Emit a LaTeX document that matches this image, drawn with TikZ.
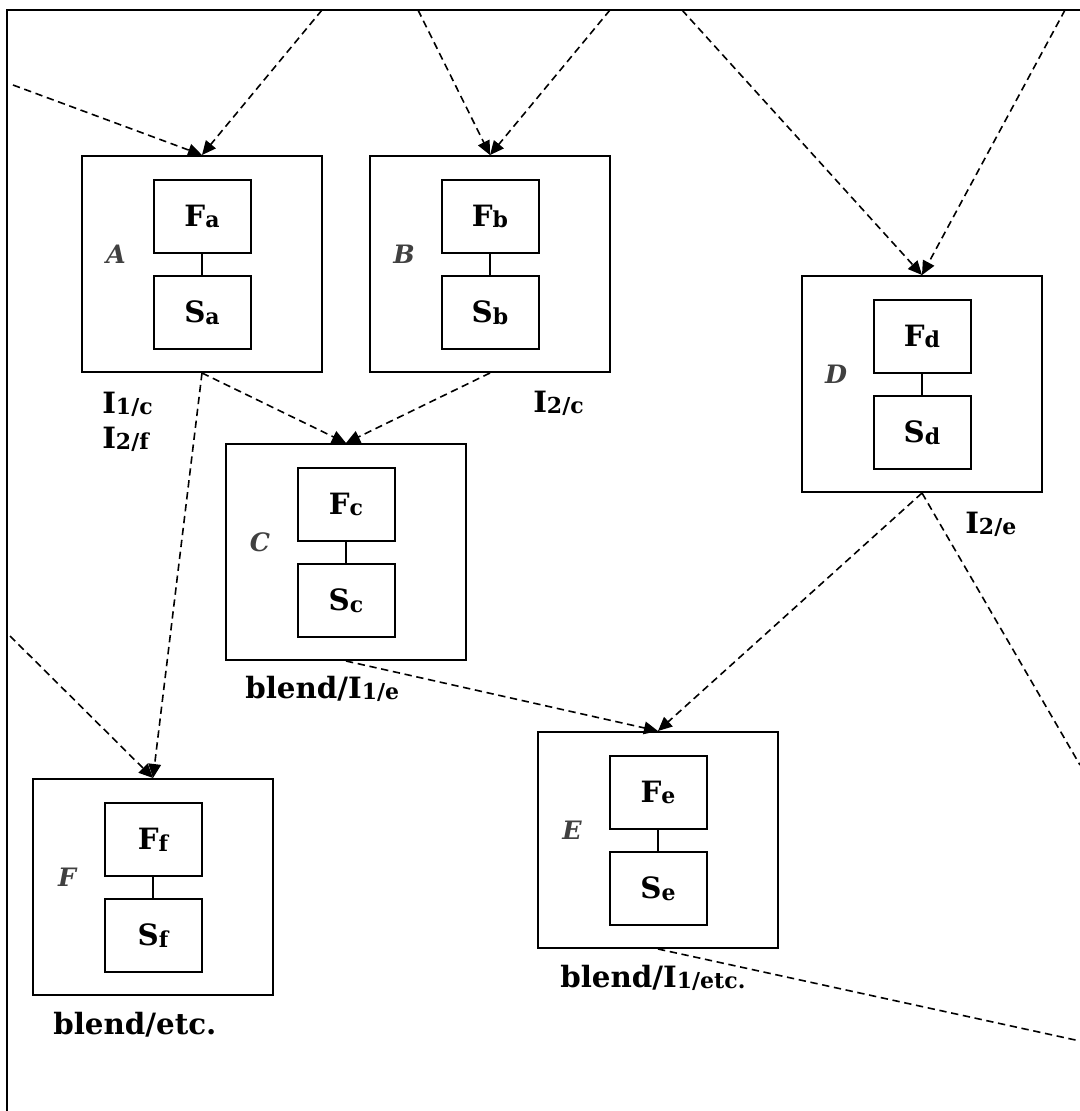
\documentclass[tikz,border=0pt]{standalone}
\usepackage{fontspec}
\setmainfont{DejaVu Serif}
\usetikzlibrary{arrows.meta}
\newcommand{\sbx}[1]{\raisebox{-1.2pt}{\fontsize{16.5}{17}\selectfont #1}}
\newcommand{\module}[5]{%
  \node[outer] (#1) at (#2,#3) {};
  \node[innerbox] (#1F) at (#2,#3-47.5) {F\sbx{#4}};
  \node[innerbox] (#1S) at (#2,#3+48.5) {S\sbx{#4}};
  \draw[link] (#1F) -- (#1S);
  \node[tag] (#1T) at (#2-86,#3-10) {#5};
}
\begin{document}
\begin{tikzpicture}[x=0.75pt,y=-0.75pt,
  outer/.style={draw, line width=1.5pt, minimum width=180pt, minimum height=162pt, inner sep=0pt},
  innerbox/.style={draw, line width=1.5pt, minimum width=72.75pt, minimum height=54.75pt, inner sep=0pt, font=\fontsize{22}{24}\selectfont\bfseries},
  tag/.style={font=\fontsize{19}{20}\selectfont\bfseries\itshape, text=black!75, inner sep=0pt},
  lab/.style={anchor=base west, inner sep=0pt, font=\fontsize{22}{24}\selectfont\bfseries},
  flow/.style={dash pattern=on 5.5pt off 3.5pt, line width=1.2pt, -{Triangle[length=10.5pt,width=9.5pt]}},
  exitline/.style={dash pattern=on 5.5pt off 3.5pt, line width=1.2pt},
  link/.style={line width=1.3pt}]

\useasboundingbox (0,0) rectangle (1080,1111);
\fill[white] (0,0) rectangle (1080,1111);
\draw[line width=1.6pt] (7,1111) -- (7,10) -- (1080,10);

\module{A}{202}{264}{a}{A}
\module{B}{490}{264}{b}{B}
\module{C}{346}{552}{c}{C}
\module{D}{922}{384}{d}{D}
\module{E}{658}{840}{e}{E}
\module{F}{153}{887}{f}{F}

\coordinate (t1) at (13,85);
\coordinate (t2) at (322,10);
\coordinate (t3) at (418,10);
\coordinate (t4) at (610,10);
\coordinate (t5) at (682,10);
\coordinate (t6) at (1065,10);
\coordinate (l1) at (10,636);
\coordinate (r1) at (1080,765);
\coordinate (r2) at (1080,1041);

\draw[flow] (t1) -- (A.north);
\draw[flow] (t2) -- (A.north);
\draw[flow] (t3) -- (B.north);
\draw[flow] (t4) -- (B.north);
\draw[flow] (t5) -- (D.north);
\draw[flow] (t6) -- (D.north);
\draw[flow] (A.south) -- (C.north);
\draw[flow] (B.south) -- (C.north);
\draw[flow] (A.south) -- (F.north);
\draw[flow] (l1) -- (F.north);
\draw[flow] (C.south) -- (E.north);
\draw[flow] (D.south) -- (E.north);
\draw[exitline] (D.south) -- (r1);
\draw[exitline] (E.south) -- (r2);

\node[lab] (lA1) at (102,413) {I\sbx{1/c}};
\node[lab] (lA2) at (102,448) {I\sbx{2/f}};
\node[lab] (lB) at (533,412) {I\sbx{2/c}};
\node[lab] (lD) at (965,533) {I\sbx{2/e}};
\node[lab] (lC) at (245,698) {blend/I\sbx{1/e}};
\node[lab] (lE) at (560,987) {blend/I\sbx{1/etc.}};
\node[lab] (lF) at (53,1034) {blend/etc.};
\end{tikzpicture}
\end{document}
